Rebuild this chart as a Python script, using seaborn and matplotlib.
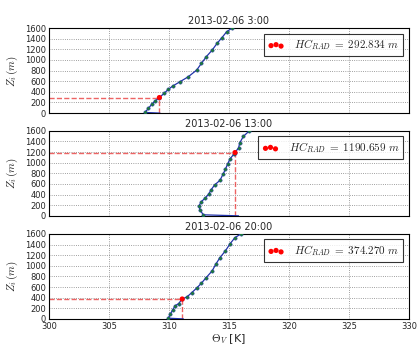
import matplotlib.pyplot as plt
import numpy as np
import pandas as pd
import seaborn as sns

sns.set_theme(style="white")
plt.rcParams['mathtext.fontset'] = 'cm'

# profiles of virtual potential temperature (K) against height (m)
titles = ["2013-02-06 3:00", "2013-02-06 13:00", "2013-02-06 20:00"]

theta_03 = [309.25, 308.0, 308.28, 308.55, 308.83, 309.2, 309.58, 309.94, 310.3, 310.9,
            311.6, 312.3, 312.7, 313.1, 313.6, 314.0, 314.4, 314.8, 315.25]
z_03 = [0, 13, 88, 163, 226, 293, 370, 446, 508, 589,
        683, 809, 935, 1060, 1186, 1311, 1417, 1530, 1600]

theta_13 = [315.8, 312.86, 312.6, 312.5, 312.7, 313.0, 313.3, 313.5, 313.8, 314.25,
            314.5, 314.7, 314.9, 315.1, 315.4, 315.5, 315.8, 315.9, 316.2, 316.7]
z_13 = [0, 19, 105, 188, 268, 331, 405, 487, 581, 668,
        781, 875, 983, 1077, 1158, 1191, 1280, 1374, 1496, 1600]

theta_20 = [311.2, 309.95, 310.1, 310.3, 310.5, 310.8, 311.1, 311.5, 311.9, 312.3,
            312.7, 313.1, 313.6, 313.9, 314.25, 314.7, 315.1, 315.5, 316.0]
z_20 = [0, 13, 88, 164, 245, 288, 374, 414, 495, 578,
        672, 777, 904, 1029, 1154, 1280, 1417, 1530, 1600]

hc_values = [292.834, 1190.659, 374.270]
hc_theta = [309.2, 315.5, 311.1]

profiles = [(theta_03, z_03), (theta_13, z_13), (theta_20, z_20)]

fig = plt.figure(figsize=(4.19, 3.47), dpi=100)
bottoms = [0.674, 0.378, 0.081]

for i, (th, zz) in enumerate(profiles):
    ax = fig.add_axes([0.117, bottoms[i], 0.859, 0.245])
    df = pd.DataFrame({"theta": th, "z": zz})

    ax.grid(True, ls=":", color="gray", lw=0.6)
    ax.set_axisbelow(True)

    # guide lines to the boundary-layer height
    ax.hlines(hc_values[i], 300, hc_theta[i], colors="#e83030", linestyles="--", lw=1, alpha=0.75, zorder=2)
    ax.vlines(hc_theta[i], 0, hc_values[i], colors="#e83030", linestyles="--", lw=1, alpha=0.75, zorder=2)

    sns.lineplot(data=df, x="theta", y="z", sort=False, estimator=None, color="#2233aa",
                 lw=0.9, ax=ax, zorder=3)
    sns.scatterplot(data=df.iloc[1:], x="theta", y="z", color="#1d7a3a", edgecolor="#2233aa",
                    linewidth=0.3, s=6, ax=ax, zorder=4)
    sns.scatterplot(x=[hc_theta[i]], y=[hc_values[i]], color="red", edgecolor="none", s=14, ax=ax, zorder=5,
                    label=r"$HC_{RAD}\;=\;%.3f\ m$" % hc_values[i])

    ax.set_xlim(300, 330)
    ax.set_ylim(0, 1600)
    ax.set_xticks(np.arange(300, 331, 5))
    ax.set_yticks(np.arange(0, 1601, 200))
    ax.tick_params(labelsize=6, direction="in", length=3, pad=2)
    if i < 2:
        ax.set_xticklabels([])
        ax.set_xlabel("")
    else:
        ax.set_xlabel(r"$\Theta_V$ [K]", fontsize=8, labelpad=1)
    ax.set_ylabel(r"$Z_i\,(m)$", fontsize=8, labelpad=4)
    ax.set_title(titles[i], fontsize=7, pad=3)
    for s in ax.spines.values():
        s.set_color("black")
        s.set_linewidth(0.8)

    leg = ax.legend(loc="upper right", scatterpoints=3, fontsize=8, frameon=True, fancybox=False,
                    borderpad=0.35, handletextpad=0.9, handlelength=1.5, borderaxespad=0.5)
    leg.get_frame().set_edgecolor("black")
    leg.get_frame().set_linewidth(0.8)

plt.savefig("out.png", dpi=100)
